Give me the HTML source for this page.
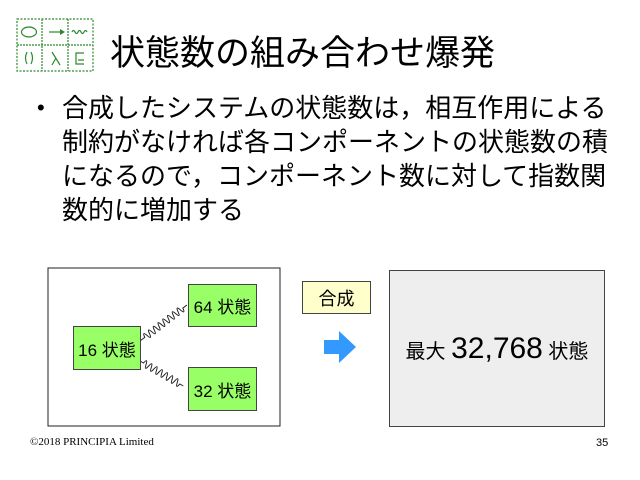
<!DOCTYPE html>
<html><head><meta charset="utf-8"><style>
body{margin:0;width:640px;height:480px;background:#fff;position:relative;overflow:hidden;font-family:"Liberation Sans","Noto Sans CJK JP",sans-serif;}
.a{position:absolute;}
.t{left:110px;top:25px;font-size:35px;color:#000;white-space:nowrap;}
.b{left:62px;top:91px;font-size:26px;line-height:34px;white-space:nowrap;}
.dot{left:37px;top:91px;font-size:22px;line-height:34px;}
.box{position:absolute;box-sizing:border-box;border:1px solid #444;display:flex;align-items:center;justify-content:center;}
.g{background:#99ff66;font-size:17px;}
</style></head><body>
<svg class="a" style="left:0;top:0" width="640" height="480">
<g fill="none" stroke="#2a8a2a" stroke-width="1.2">
<rect x="17" y="19" width="76" height="52" stroke-dasharray="2 1.5"/>
<line x1="42" y1="19" x2="42" y2="71" stroke-dasharray="2 1"/>
<line x1="68" y1="19" x2="68" y2="71" stroke-dasharray="2 1"/>
<line x1="17" y1="45" x2="93" y2="45" stroke-dasharray="2 1"/>
<ellipse cx="29" cy="32" rx="7.5" ry="5"/>
<line x1="49" y1="32" x2="60" y2="32"/>
<path d="M72,32 q1.5,-3 3,0 t3,0 t3,0 t3,0 t3,0"/>
<path d="M27,52 q-3,6 0,12 M31,52 q3,6 0,12"/>
<path d="M52,52 l8,13 M56,58 l-4,7"/>
<path d="M84,53 h-8 v11 h8 M78,60 h6"/>
</g>
<polygon points="60,29 65,32 60,35" fill="#2a8a2a"/>
<rect x="48" y="268" width="232" height="158" fill="#fff" stroke="#222"/>
<g fill="none" stroke="#222" stroke-width="1">
<g transform="translate(140,341) rotate(-37.5)"><path d="M0,0 l6,0 q1.5,-7 3,0 t3,0 t3,0 t3,0 t3,0 t3,0 t3,0 t3,0 t3,0 t3,0 t3,0 t3,0 t3,0 t3,0 t3,0 t3,0 l5,0"/></g>
<g transform="translate(140,361) rotate(30)"><path d="M0,0 l4,0 q1.5,-7 3,0 t3,0 t3,0 t3,0 t3,0 t3,0 t3,0 t3,0 t3,0 t3,0 t3,0 t3,0 t3,0 t3,0 l4,0"/></g>
</g>
<polygon points="324,340 339,340 339,331 356,347 339,363 339,354 324,354" fill="#3399ff"/>
</svg>
<div class="a t">状態数の組み合わせ爆発</div>
<div class="a dot">•</div>
<div class="a b">合成したシステムの状態数は，相互作用による<br>制約がなければ各コンポーネントの状態数の積<br>になるので，コンポーネント数に対して指数関<br>数的に増加する</div>
<div class="box g" style="left:73px;top:326px;width:68px;height:44px">16 状態</div>
<div class="box g" style="left:188px;top:284px;width:69px;height:43px">64 状態</div>
<div class="box g" style="left:188px;top:367px;width:69px;height:44px">32 状態</div>
<div class="box" style="left:302px;top:281px;width:69px;height:33px;background:#ffffcc;font-size:18px">合成</div>
<div class="box" style="left:389px;top:270px;width:216px;height:157px;background:#eeeeee;font-size:20px"><span>最大 <span style="font-size:30px">32,768</span> 状態</span></div>
<div class="a" style="left:30px;top:436px;font-size:11px;font-family:'Liberation Serif',serif">©2018 PRINCIPIA Limited</div>
<div class="a" style="left:596px;top:437px;font-size:11px">35</div>
</body></html>
